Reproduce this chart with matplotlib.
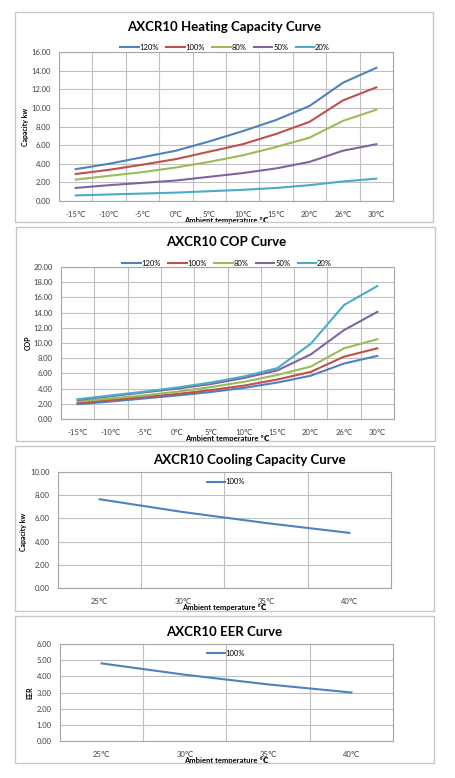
import matplotlib
matplotlib.use("Agg")
import matplotlib.pyplot as plt
from matplotlib.patches import Rectangle

plt.rcParams['font.family'] = ['Lato', 'DejaVu Sans']

heat_temps = ["-15℃", "-10℃", "-5℃", "0℃", "5℃", "10℃", "15℃", "20℃", "26℃", "30℃"]
loads = ["120%", "100%", "80%", "50%", "20%"]
colors = ["#4F81BD", "#C0504D", "#9BBB59", "#8064A2", "#4BACC6"]

heat_120 = [3.42, 4.0, 4.7, 5.4, 6.4, 7.5, 8.7, 10.2, 12.7, 14.3]
heat_100 = [2.9, 3.35, 3.9, 4.5, 5.3, 6.1, 7.2, 8.5, 10.8, 12.2]
heat_80 = [2.3, 2.7, 3.1, 3.6, 4.2, 4.9, 5.8, 6.8, 8.6, 9.8]
heat_50 = [1.4, 1.7, 1.95, 2.2, 2.6, 3.0, 3.5, 4.2, 5.4, 6.1]
heat_20 = [0.6, 0.7, 0.8, 0.9, 1.05, 1.2, 1.4, 1.7, 2.1, 2.4]

cop_120 = [1.95, 2.3, 2.7, 3.1, 3.55, 4.1, 4.8, 5.7, 7.3, 8.3]
cop_100 = [2.1, 2.5, 2.9, 3.3, 3.8, 4.4, 5.2, 6.2, 8.2, 9.3]
cop_80 = [2.3, 2.7, 3.1, 3.6, 4.2, 4.9, 5.8, 6.9, 9.3, 10.5]
cop_50 = [2.5, 3.0, 3.5, 4.0, 4.6, 5.4, 6.4, 8.5, 11.7, 14.1]
cop_20 = [2.6, 3.1, 3.6, 4.15, 4.8, 5.6, 6.7, 9.9, 15.0, 17.5]

cool_temps = ["25℃", "30℃", "35℃", "40℃"]
cool_100 = [7.65, 6.55, 5.6, 4.75]
eer_100 = [4.8, 4.1, 3.5, 3.0]

W, H = 456, 778
fig = plt.figure(figsize=(W / 100, H / 100), dpi=100)

grid_c = "#BFBFBF"
txt_c = "#404040"


def px_axes(l, t, r, b):
    return fig.add_axes([l / W, 1 - b / H, (r - l) / W, (b - t) / H])


def frame(l, t, r, b):
    fig.patches.append(Rectangle((l / W, 1 - b / H), (r - l) / W, (b - t) / H,
                                 transform=fig.transFigure, fill=False,
                                 edgecolor="#C8C8C8", linewidth=1.0))


def style(ax, cats, ymax, ystep, ylabel, ylab_xy, title, title_xy, hpx):
    n = len(cats)
    ax.set_xlim(-0.5, n - 0.5)
    ax.set_ylim(0, ymax)
    ax.set_xticks(range(n))
    ax.set_xticklabels(cats, fontsize=5.5, color=txt_c)
    ax.set_xticks([i + 0.5 for i in range(n - 1)], minor=True)
    yt = [i * ystep for i in range(int(round(ymax / ystep)) + 1)]
    ax.set_yticks(yt)
    ax.set_yticklabels(["%.2f" % v for v in yt], fontsize=5.5, color=txt_c)
    ax.tick_params(axis="both", which="both", length=0)
    ax.tick_params(axis="y", pad=6)
    ax.tick_params(axis="x", pad=7)
    ax.grid(True, axis="y", color=grid_c, linewidth=0.8)
    ax.grid(True, axis="x", which="minor", color=grid_c, linewidth=0.8)
    for s in ax.spines.values():
        s.set_color("#A6A6A6")
        s.set_linewidth(0.8)
    ax.set_axisbelow(True)
    ax.set_xlabel("Ambient temperature ℃", fontsize=5.5, fontweight="bold")
    ax.xaxis.set_label_coords(0.5, -16 / hpx)
    fig.text(ylab_xy[0] / W, 1 - ylab_xy[1] / H, ylabel, rotation=90,
             fontsize=5, fontweight="bold", ha="center", va="center")
    fig.text(title_xy[0] / W, 1 - title_xy[1] / H, title, fontsize=9.5,
             fontweight="bold", ha="center", va="center")


# Heating capacity
frame(15, 12, 433, 222)
ax1 = px_axes(59, 52, 393, 201)
for vals, lab, c in zip([heat_120, heat_100, heat_80, heat_50, heat_20], loads, colors):
    ax1.plot(range(len(heat_temps)), vals, color=c, linewidth=1.5, label=lab)
style(ax1, heat_temps, 16, 2, "Capacity kw", (26, 127), "AXCR10 Heating Capacity Curve", (224, 27), 149)
ax1.legend(loc="center", bbox_to_anchor=((225 - 59) / 334, 1 + 5 / 149), ncol=5, frameon=False,
           fontsize=5.5, handlelength=2.4, handletextpad=0.1, columnspacing=1.0,
           borderaxespad=0, borderpad=0)

# COP
frame(16, 227, 435, 441)
ax2 = px_axes(61, 267, 394, 419)
for vals, lab, c in zip([cop_120, cop_100, cop_80, cop_50, cop_20], loads, colors):
    ax2.plot(range(len(heat_temps)), vals, color=c, linewidth=1.5, label=lab)
style(ax2, heat_temps, 20, 2, "COP", (28, 343), "AXCR10 COP Curve", (226, 242), 152)
ax2.legend(loc="center", bbox_to_anchor=((227 - 61) / 333, 1 + 4 / 152), ncol=5, frameon=False,
           fontsize=5.5, handlelength=2.4, handletextpad=0.1, columnspacing=1.0,
           borderaxespad=0, borderpad=0)

# Cooling capacity
frame(15, 446, 434, 611)
ax3 = px_axes(58, 472, 391, 588)
ax3.plot(range(len(cool_temps)), cool_100, color=colors[0], linewidth=1.5, label="100%")
style(ax3, cool_temps, 10, 2, "Capacity kw", (24, 532), "AXCR10 Cooling Capacity Curve", (249, 460), 116)
ax3.legend(loc="center", bbox_to_anchor=((226 - 58) / 333, 1 - 10 / 116), frameon=False,
           fontsize=5.5, handlelength=2.4, handletextpad=0.1, borderaxespad=0, borderpad=0)

# EER
frame(15, 616, 434, 763)
ax4 = px_axes(60, 644, 393, 741)
ax4.plot(range(len(cool_temps)), eer_100, color=colors[0], linewidth=1.5, label="100%")
style(ax4, cool_temps, 6, 1, "EER", (30, 693), "AXCR10 EER Curve", (224, 632), 97)
ax4.legend(loc="center", bbox_to_anchor=((226 - 60) / 333, 1 - 9 / 97), frameon=False,
           fontsize=5.5, handlelength=2.4, handletextpad=0.1, borderaxespad=0, borderpad=0)

fig.savefig("out.png", dpi=100)
